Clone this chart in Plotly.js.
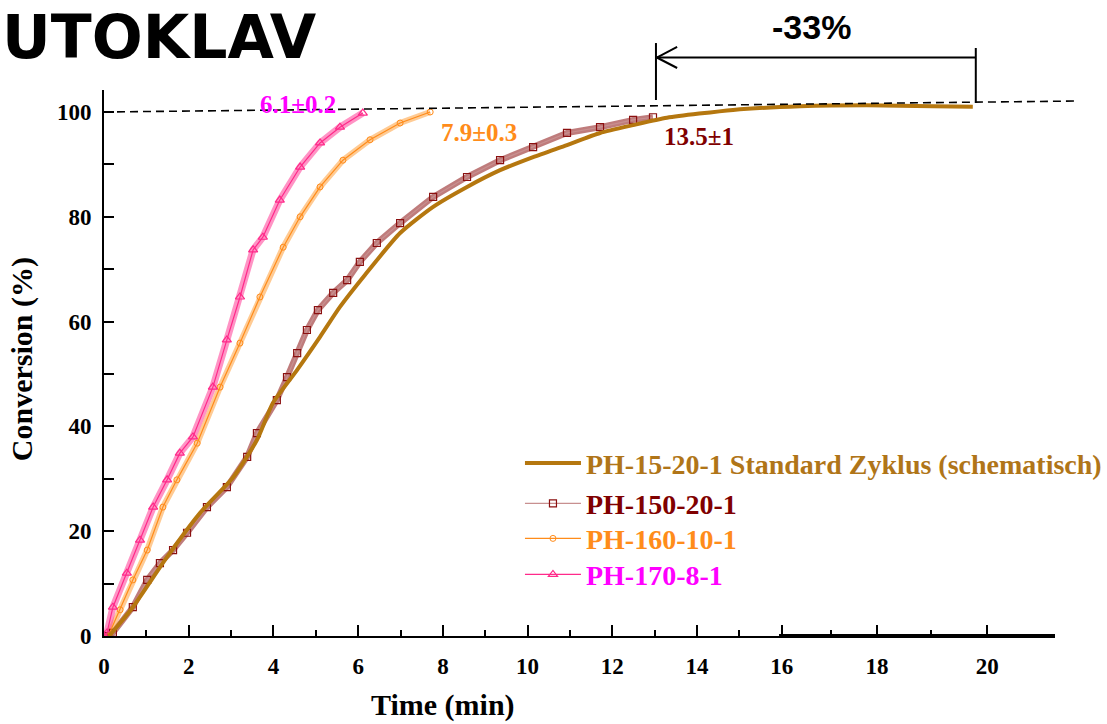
<!DOCTYPE html>
<html>
<head>
<meta charset="utf-8">
<script src="https://cdn.plot.ly/plotly-3.0.1.min.js"></script>
<style>html,body{margin:0;padding:0;background:#fff;}#chart{width:1107px;height:724px;}</style>
</head>
<body>
<div id="chart"></div>
<script>
// ---- data (time in min, conversion in %) ----
const timeStd = [0.1, 0.14, 0.68, 1.49, 2.27, 3.05, 3.61, 3.99, 4.56, 5.10, 5.57, 6.16, 6.99, 7.77, 8.57, 9.35, 10.13, 10.93, 11.71, 12.49, 13.29, 14.85, 16.43, 18.01, 19.57, 20.51];
const convStd = [0, 0.2, 5.5, 15.1, 23.5, 30.3, 37.4, 44.5, 50.8, 57.1, 62.8, 68.9, 76.9, 81.9, 85.7, 88.9, 91.4, 93.7, 96.0, 97.5, 98.9, 100.4, 101.1, 101.3, 101.1, 101.0];

const time150 = [0, 0.21, 0.68, 1.02, 1.32, 1.63, 1.96, 2.43, 2.90, 3.38, 3.61, 4.08, 4.32, 4.56, 4.79, 5.05, 5.41, 5.74, 6.04, 6.44, 6.99, 7.77, 8.57, 9.35, 10.13, 10.93, 11.71, 12.49, 12.96];
const conv150 = [0, 0.6, 5.5, 10.7, 13.9, 16.4, 19.7, 24.6, 28.4, 34.2, 38.7, 45.0, 49.4, 54.0, 58.4, 62.2, 65.5, 67.9, 71.4, 75.0, 78.8, 83.8, 87.6, 90.8, 93.3, 96.0, 97.1, 98.5, 99.0];

const time160 = [0.1, 0.38, 0.68, 1.02, 1.39, 1.72, 2.20, 2.74, 3.21, 3.68, 4.23, 4.63, 5.10, 5.64, 6.28, 6.99, 7.70];
const conv160 = [0, 5.0, 10.7, 16.4, 24.6, 29.8, 36.8, 47.5, 55.9, 64.7, 74.2, 80.0, 85.7, 90.8, 94.7, 97.9, 100.0];

const time170 = [0, 0.07, 0.21, 0.54, 0.85, 1.16, 1.49, 1.79, 2.10, 2.57, 2.90, 3.21, 3.52, 3.75, 4.15, 4.63, 5.10, 5.57, 6.11];
const conv170 = [0, 0.6, 5.5, 12.0, 18.3, 24.6, 29.8, 34.9, 38.0, 47.5, 56.5, 64.7, 73.7, 76.1, 83.2, 89.5, 94.1, 97.1, 99.8];

const xTickVals = [0, 2, 4, 6, 8, 10, 12, 14, 16, 18.25, 20.85];
const xTickText = ['0', '2', '4', '6', '8', '10', '12', '14', '16', '18', '20'];
const xMinorVals = [1, 3, 5, 7, 9, 11, 13, 15, 17.16, 19.52];

const seriesNames = ['PH-15-20-1 Standard Zyklus (schematisch)', 'PH-150-20-1', 'PH-160-10-1', 'PH-170-8-1'];
const lineColors = ['#b5770f', '#8b1010', '#ff8c1a', '#ff2a8a'];
const textColors = ['#b07518', '#800000', '#ff8c1a', '#ff00ff'];
const durationLabels = ['6.1±0.2', '7.9±0.3', '13.5±1'];
const reductionLabel = '-33%';
const headline = 'UTOKLAV';

const serif = 'Liberation Serif, Times New Roman, serif';
const sans = 'DejaVu Sans, Arial, sans-serif';

function nm(i) { return '<span style="color:' + textColors[i] + '">' + seriesNames[i] + '</span>'; }

const traces = [
  // translucent bands to mimic dense marker trails
  {x: time150, y: conv150, mode: 'lines', line: {color: 'rgba(139,16,16,0.55)', width: 6}, showlegend: false, hoverinfo: 'skip'},
  {x: time160, y: conv160, mode: 'lines', line: {color: 'rgba(255,160,60,0.55)', width: 6}, showlegend: false, hoverinfo: 'skip'},
  {x: time170, y: conv170, mode: 'lines', line: {color: 'rgba(255,60,150,0.55)', width: 7}, showlegend: false, hoverinfo: 'skip'},
  {x: time150, y: conv150, name: nm(1), mode: 'lines+markers', legend: 'legend2',
   line: {color: '#c89090', width: 1.2}, marker: {symbol: 'square-open', size: 7, color: lineColors[1], line: {width: 1.2}}},
  {x: time160, y: conv160, name: nm(2), mode: 'lines+markers', legend: 'legend3',
   line: {color: lineColors[2], width: 1.2}, marker: {symbol: 'circle-open', size: 6, color: lineColors[2], line: {width: 1}}},
  {x: time170, y: conv170, name: nm(3), mode: 'lines+markers', legend: 'legend4',
   line: {color: lineColors[3], width: 1.2}, marker: {symbol: 'triangle-up-open', size: 8, color: lineColors[3], line: {width: 1.2}}},
  {x: timeStd, y: convStd, name: nm(0), mode: 'lines', legend: 'legend',
   line: {color: lineColors[0], width: 4, shape: 'spline', smoothing: 0.6}, cliponaxis: false}
];

function legendAt(y, bg) {
  return {
    x: 0.4374, y: y, xanchor: 'left', yanchor: 'top',
    bgcolor: bg, borderwidth: 0, itemwidth: 56,
    font: {family: serif, size: 28, weight: 'bold'}
  };
}

const layout = {
  width: 1107, height: 724,
  margin: {l: 104, r: 52, t: 90, b: 88, autoexpand: false},
  paper_bgcolor: '#ffffff', plot_bgcolor: '#ffffff',
  showlegend: true,
  xaxis: {
    range: [0, 22.45], showgrid: false, zeroline: false, automargin: false,
    showline: true, linecolor: '#000', linewidth: 2,
    tickmode: 'array', tickvals: xTickVals, ticktext: xTickText,
    ticks: 'inside', ticklen: 11, tickwidth: 2, tickcolor: '#000',
    ticklabelstandoff: 8,
    minor: {tickmode: 'array', tickvals: xMinorVals, ticks: 'inside', ticklen: 6, tickwidth: 2, tickcolor: '#000'},
    tickfont: {family: serif, size: 23, color: '#000', weight: 'bold'}
  },
  yaxis: {
    range: [0, 104.2], showgrid: false, zeroline: false, automargin: false,
    showline: true, linecolor: '#000', linewidth: 2,
    tickmode: 'linear', tick0: 0, dtick: 20,
    ticks: 'inside', ticklen: 10, tickwidth: 2, tickcolor: '#000',
    ticklabelstandoff: 6,
    minor: {dtick: 10, ticks: 'inside', ticklen: 10, tickwidth: 2, tickcolor: '#000'},
    tickfont: {family: serif, size: 23, color: '#000', weight: 'bold'}
  },
  legend: legendAt(0.362, 'rgba(255,255,255,1)'),
  legend2: legendAt(0.288, 'rgba(255,255,255,0)'),
  legend3: legendAt(0.224, 'rgba(255,255,255,0)'),
  legend4: legendAt(0.158, 'rgba(255,255,255,0)'),
  shapes: [
    // dashed 100% reference line
    {type: 'line', xref: 'paper', yref: 'y', x0: 0, x1: 1.024, y0: 100, y1: 102.1,
     line: {color: '#000', width: 1.6, dash: '8px,5px'}},
    // thicker axis segment
    {type: 'line', xref: 'paper', yref: 'paper', x0: 0.7098, x1: 1, y0: 0, y1: 0,
     line: {color: '#000', width: 4}},
    // -33% bracket
    {type: 'line', xref: 'x', yref: 'paper', x0: 13.05, x1: 20.58, y0: 1.0595, y1: 1.0595, line: {color: '#000', width: 2}},
    {type: 'line', xref: 'x', yref: 'paper', x0: 13.03, x1: 13.03, y0: 0.9817, y1: 1.086, line: {color: '#000', width: 2}},
    {type: 'line', xref: 'x', yref: 'paper', x0: 20.58, x1: 20.58, y0: 0.9762, y1: 1.0769, line: {color: '#000', width: 2}},
    {type: 'line', xref: 'x', yref: 'paper', x0: 13.05, x1: 13.53, y0: 1.0595, y1: 1.0788, line: {color: '#000', width: 2}},
    {type: 'line', xref: 'x', yref: 'paper', x0: 13.05, x1: 13.53, y0: 1.0595, y1: 1.0403, line: {color: '#000', width: 2}}
  ],
  annotations: [
    {text: headline, xref: 'paper', yref: 'paper', x: -0.1094, y: 1.1648, xanchor: 'left', yanchor: 'top',
     showarrow: false, font: {family: sans, size: 60, color: '#000', weight: 'bold'}},
    {text: reductionLabel, xref: 'x', yref: 'paper', x: 16.71, y: 1.115, xanchor: 'center', yanchor: 'middle',
     showarrow: false, font: {family: 'Liberation Sans, Arial, sans-serif', size: 34, color: '#000', weight: 'bold'}},
    {text: durationLabels[0], xref: 'x', yref: 'y', x: 4.58, y: 101.5, showarrow: false,
     font: {family: serif, size: 25, color: textColors[3], weight: 'bold'}},
    {text: durationLabels[1], xref: 'x', yref: 'y', x: 8.85, y: 96.0, showarrow: false,
     font: {family: serif, size: 25, color: textColors[2], weight: 'bold'}},
    {text: durationLabels[2], xref: 'x', yref: 'y', x: 14.05, y: 95.4, showarrow: false,
     font: {family: serif, size: 25, color: textColors[1], weight: 'bold'}},
    {text: 'Conversion (%)', xref: 'paper', yref: 'paper', x: -0.0862, y: 0.507, textangle: -90,
     xanchor: 'center', yanchor: 'middle', showarrow: false,
     font: {family: serif, size: 30, color: '#000', weight: 'bold'}},
    {text: 'Time (min)', xref: 'paper', yref: 'paper', x: 0.3565, y: -0.1265, xanchor: 'center', yanchor: 'middle',
     showarrow: false, font: {family: serif, size: 30, color: '#000', weight: 'bold'}}
  ]
};

Plotly.newPlot('chart', traces, layout, {displayModeBar: false, staticPlot: true});
</script>
</body>
</html>
